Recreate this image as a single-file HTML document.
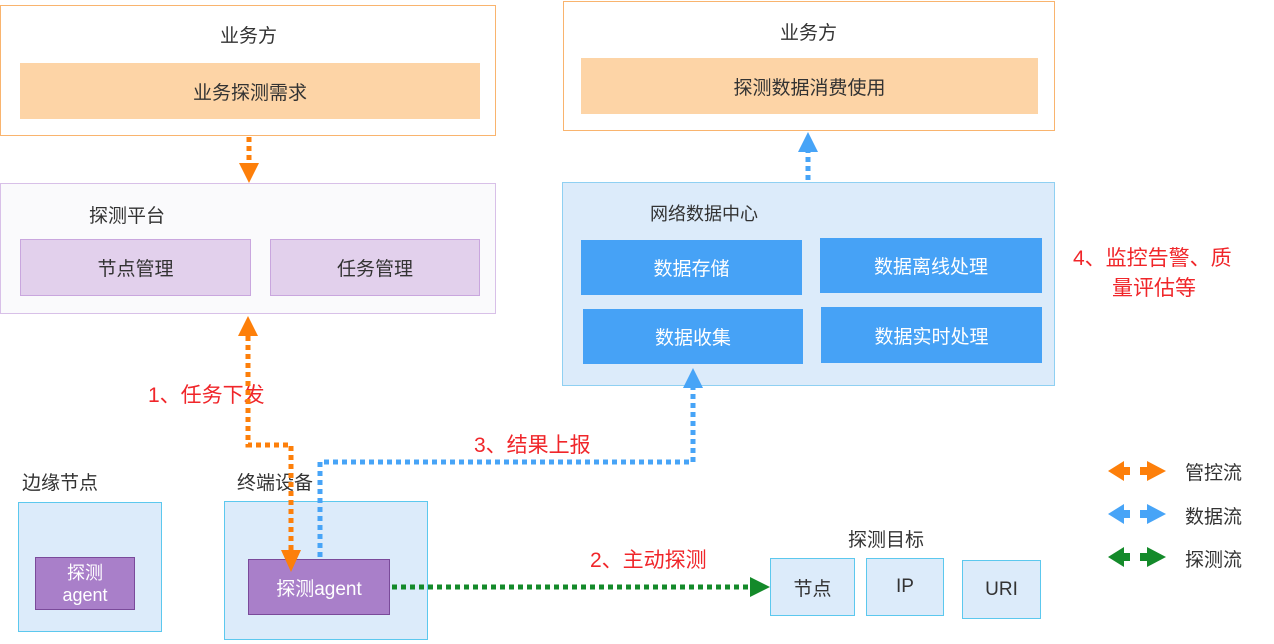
<!DOCTYPE html>
<html><head><meta charset="utf-8"><style>
body{margin:0;width:1274px;height:644px;background:#fff;position:relative;overflow:hidden;font-family:"Liberation Sans","Noto Sans CJK SC",sans-serif;color:#333}
.b{position:absolute;box-sizing:border-box}
.c{display:flex;align-items:center;justify-content:center;text-align:center}
.t{position:absolute;white-space:nowrap}
.red{color:#f0262a;font-size:21px}
</style></head><body>
<div class="b" style="left:0;top:5px;width:496px;height:131px;border:1.5px solid #f9b46e"></div>
<div class="t" style="left:220px;top:21px;font-size:19px">业务方</div>
<div class="b c" style="left:20px;top:63px;width:460px;height:56px;background:#fdd4a6;font-size:19px">业务探测需求</div>

<div class="b" style="left:563px;top:1px;width:492px;height:130px;border:1.5px solid #f9b46e"></div>
<div class="t" style="left:780px;top:18px;font-size:19px">业务方</div>
<div class="b c" style="left:581px;top:58px;width:457px;height:56px;background:#fdd4a6;font-size:19px">探测数据消费使用</div>

<div class="b" style="left:0;top:183px;width:496px;height:131px;border:1.5px solid #d8c0e8;background:#fafafc"></div>
<div class="t" style="left:89px;top:201px;font-size:19px">探测平台</div>
<div class="b c" style="left:20px;top:239px;width:231px;height:57px;background:#e2d0ec;border:1.5px solid #c9a6de;font-size:19px">节点管理</div>
<div class="b c" style="left:270px;top:239px;width:210px;height:57px;background:#e2d0ec;border:1.5px solid #c9a6de;font-size:19px">任务管理</div>

<div class="b" style="left:562px;top:182px;width:493px;height:204px;border:1.5px solid #8fd0f2;background:#dcebfa"></div>
<div class="t" style="left:650px;top:200px;font-size:18px">网络数据中心</div>
<div class="b c" style="left:581px;top:240px;width:221px;height:55px;background:#46a2f6;color:#fff;font-size:19px">数据存储</div>
<div class="b c" style="left:820px;top:238px;width:222px;height:55px;background:#46a2f6;color:#fff;font-size:19px">数据离线处理</div>
<div class="b c" style="left:583px;top:309px;width:220px;height:55px;background:#46a2f6;color:#fff;font-size:19px">数据收集</div>
<div class="b c" style="left:821px;top:307px;width:221px;height:56px;background:#46a2f6;color:#fff;font-size:19px">数据实时处理</div>

<div class="t red" style="left:1073px;top:242px">4、监控告警、质</div>
<div class="t red" style="left:1112px;top:272px">量评估等</div>
<div class="t red" style="left:148px;top:379px">1、任务下发</div>
<div class="t red" style="left:474px;top:429px">3、结果上报</div>
<div class="t red" style="left:590px;top:544px">2、主动探测</div>

<div class="t" style="left:22px;top:468px;font-size:19px">边缘节点</div>
<div class="b" style="left:18px;top:502px;width:144px;height:130px;background:#dcebfa;border:1.5px solid #5cc8ee"></div>
<div class="b c" style="left:35px;top:557px;width:100px;height:53px;background:#a97fc9;border:1.5px solid #7a4a9a;color:#fff;font-size:18px;line-height:22px">探测<br>agent</div>

<div class="t" style="left:237px;top:468px;font-size:19px">终端设备</div>
<div class="b" style="left:224px;top:501px;width:204px;height:139px;background:#dcebfa;border:1.5px solid #5cc8ee"></div>
<div class="b c" style="left:248px;top:559px;width:142px;height:56px;background:#a97fc9;border:1.5px solid #7a4a9a;color:#fff;font-size:19px">探测agent</div>

<div class="t" style="left:848px;top:525px;font-size:19px">探测目标</div>
<div class="b c" style="left:770px;top:558px;width:85px;height:58px;background:#dcebfa;border:1.5px solid #5cc8ee;font-size:19px">节点</div>
<div class="b c" style="left:866px;top:558px;width:78px;height:58px;background:#dcebfa;border:1.5px solid #5cc8ee;font-size:19px">IP</div>
<div class="b c" style="left:962px;top:560px;width:79px;height:59px;background:#dcebfa;border:1.5px solid #5cc8ee;font-size:19px">URI</div>

<div class="t" style="left:1185px;top:458px;font-size:19px">管控流</div>
<div class="t" style="left:1185px;top:502px;font-size:19px">数据流</div>
<div class="t" style="left:1185px;top:545px;font-size:19px">探测流</div>

<svg width="1274" height="644" style="position:absolute;left:0;top:0">
<g fill="none" stroke-width="5" stroke-dasharray="5 4">
<path d="M249 137 V162" stroke="#fd7f0a"/>
<path d="M248 336 V445 H291 V550" stroke="#fd7f0a"/>
<path d="M808 180 V152" stroke="#47a4f7"/>
<path d="M320 557 V462 H693 V388" stroke="#47a4f7"/>
<path d="M392 587 H752" stroke="#148a2a"/>
</g>
<g>
<polygon points="239,163 259,163 249,183" fill="#fd7f0a"/>
<polygon points="238,336 258,336 248,316" fill="#fd7f0a"/>
<polygon points="281,550 301,550 291,572" fill="#fd7f0a"/>
<polygon points="798,152 818,152 808,132" fill="#47a4f7"/>
<polygon points="683,388 703,388 693,368" fill="#47a4f7"/>
<polygon points="750,577 750,597 770,587" fill="#148a2a"/>
<g fill="#fd7f0a"><polygon points="1108,471 1124,461 1124,481"/><rect x="1124" y="467" width="6" height="8"/><rect x="1140" y="467" width="7" height="8"/><polygon points="1147,461 1147,481 1166,471"/></g>
<g fill="#47a4f7"><polygon points="1108,514 1124,504 1124,524"/><rect x="1124" y="510" width="6" height="8"/><rect x="1140" y="510" width="7" height="8"/><polygon points="1147,504 1147,524 1166,514"/></g>
<g fill="#148a2a"><polygon points="1108,557 1124,547 1124,567"/><rect x="1124" y="553" width="6" height="8"/><rect x="1140" y="553" width="7" height="8"/><polygon points="1147,547 1147,567 1166,557"/></g>
</g>
</svg>
</body></html>
